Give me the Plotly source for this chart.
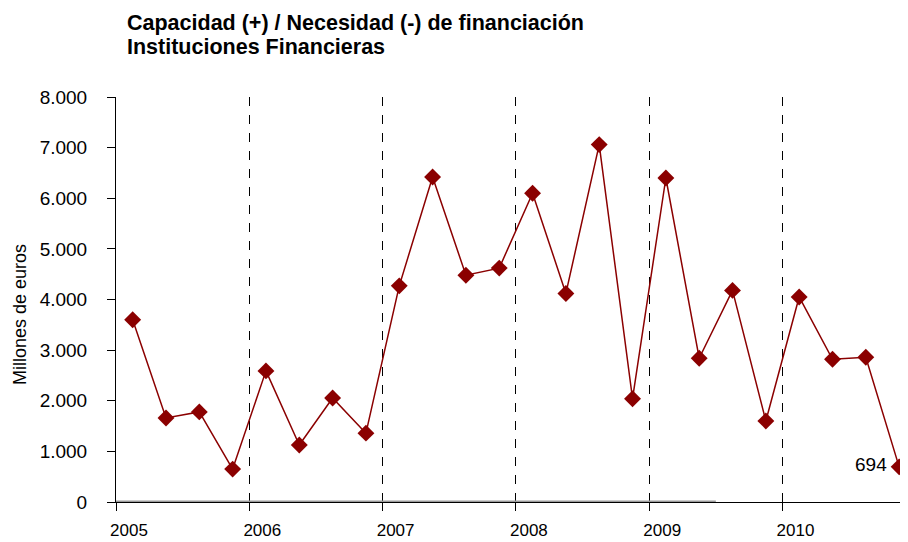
import plotly.graph_objects as go

# Data (millones de euros), quarterly 2005Q1 - 2010Q4
years = [2005, 2006, 2007, 2008, 2009, 2010]
quarters = [1, 2, 3, 4]
values = [3600, 1660, 1780, 650,
          2590, 1125, 2055, 1360,
          4270, 6420, 4480, 4620,
          6100, 4120, 7060, 2040,
          6400, 2840, 4180, 1600,
          4050, 2820, 2860, 694]
zero_series = [0] * 19
y_tickvals = [0, 1000, 2000, 3000, 4000, 5000, 6000, 7000, 8000]
y_ticktext = ["0", "1.000", "2.000", "3.000", "4.000", "5.000", "6.000", "7.000", "8.000"]
x_ticklabels = [str(y) for y in years]
title_lines = ["Capacidad (+) / Necesidad (-) de financiación", "Instituciones Financieras"]

x_pos = [y + (q - 0.5) / 4 for y in years for q in quarters]
zero_x = [years[0] + k / 4 for k in range(len(zero_series))]

FONT = "Liberation Sans, Arial, sans-serif"
RED = "#8B0000"

fig = go.Figure()
fig.add_trace(go.Scatter(
    x=zero_x, y=zero_series,
    mode="lines", line=dict(color="#9a9a9a", width=3),
    hoverinfo="skip", showlegend=False, cliponaxis=False))
fig.add_trace(go.Scatter(
    x=x_pos, y=values, mode="lines+markers",
    line=dict(color=RED, width=1.5),
    marker=dict(symbol="diamond", size=13, color=RED),
    showlegend=False, cliponaxis=False))

fig.add_annotation(x=x_pos[-1], y=values[-1], text=f"{values[-1]}",
                   showarrow=False, xanchor="right", xshift=-10, yshift=2,
                   font=dict(family=FONT, size=19, color="#000"))

fig.add_annotation(xref="paper", yref="paper", x=-0.121, y=0.462,
                   text="Millones de euros", textangle=-90, showarrow=False,
                   xanchor="center", yanchor="middle",
                   font=dict(family=FONT, size=18, color="#000"))

for i, line in enumerate(title_lines):
    fig.add_annotation(xref="paper", yref="paper", x=(117 - 108) / 792, y=1.0,
                       yshift=88 - 24 * i, xanchor="left", yanchor="top", align="left",
                       text="<b>" + line + "</b>", showarrow=False,
                       font=dict(family=FONT, size=21.5, color="#000"))

fig.update_layout(
    width=900, height=534,
    margin=dict(l=108, r=0, t=89, b=40, autoexpand=False),
    paper_bgcolor="white", plot_bgcolor="white",
    font=dict(family=FONT, color="#000"),
)

fig.update_xaxes(
    range=[2005, 2005 + 792 / 133.3],
    tickvals=years, ticktext=x_ticklabels,
    showline=True, linecolor="#000", linewidth=1,
    ticks="outside", ticklen=8, tickcolor="#000",
    ticklabelshift=13, ticklabelstandoff=5,
    showgrid=True, gridcolor="#000", griddash="dash", gridwidth=1,
    zeroline=False, tickfont=dict(family=FONT, size=17),
    automargin=False,
)
fig.update_yaxes(
    range=[0, 8000],
    tickvals=y_tickvals, ticktext=y_ticktext,
    showline=True, linecolor="#000", linewidth=1,
    ticks="outside", ticklen=8, tickcolor="#000",
    ticklabelstandoff=16,
    showgrid=False, zeroline=False,
    tickfont=dict(family=FONT, size=19),
    automargin=False,
)

fig.write_html("out.html")
